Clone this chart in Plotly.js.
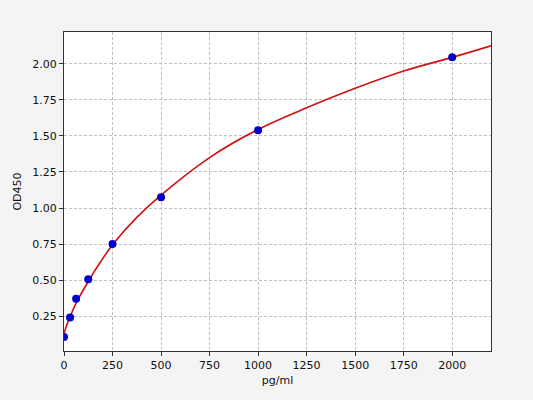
<!DOCTYPE html>
<html>
<head>
<meta charset="utf-8">
<script src="https://cdn.plot.ly/plotly-3.0.1.min.js"></script>
<style>
  html, body { margin: 0; padding: 0; background: #f4f4f4; }
  #chart { width: 533px; height: 400px; }
</style>
</head>
<body>
<div id="chart"></div>
<script>
// standard points
var conc = [0, 31.25, 62.5, 125, 250, 500, 1000, 2000];
var od = [0.105, 0.24, 0.37, 0.505, 0.75, 1.075, 1.54, 2.045];

// fitted curve
var fitX = [0, 15, 31.25, 62.5, 125, 187.5, 250, 375, 500, 750, 1000, 1250, 1500, 1750, 2000, 2200];
var fitY = [0.13, 0.19, 0.245, 0.34, 0.49, 0.625, 0.745, 0.935, 1.09, 1.35, 1.545, 1.695, 1.83, 1.95, 2.045, 2.125];

var xTicks = [0, 250, 500, 750, 1000, 1250, 1500, 1750, 2000];
var yTicks = [0.25, 0.5, 0.75, 1.0, 1.25, 1.5, 1.75, 2.0];

var curve = {
    x: fitX,
    y: fitY,
    mode: 'lines',
    type: 'scatter',
    line: {color: '#d01010', width: 1.6, shape: 'spline'},
    hoverinfo: 'skip'
};

var points = {
    x: conc,
    y: od,
    mode: 'markers',
    type: 'scatter',
    marker: {color: '#0000cc', size: 8}
};

var axisFont = {family: 'DejaVu Sans', size: 11, color: '#111'};

var layout = {
    width: 533,
    height: 400,
    margin: {l: 64, r: 42, t: 32, b: 49},
    paper_bgcolor: '#f4f4f4',
    plot_bgcolor: '#ffffff',
    showlegend: false,
    font: axisFont,
    xaxis: {
        range: [0, 2200],
        tickvals: xTicks,
        ticks: 'outside',
        ticklen: 4,
        tickcolor: '#333',
        showgrid: true,
        gridcolor: '#b0b0b0',
        griddash: '3px,2px',
        gridwidth: 0.8,
        zeroline: false,
        showline: true,
        linecolor: '#333',
        linewidth: 1,
        mirror: true,
        tickfont: axisFont,
        title: {text: 'pg/ml', font: axisFont, standoff: 5}
    },
    yaxis: {
        range: [0.008, 2.221],
        tickvals: yTicks,
        tickformat: '.2f',
        ticks: 'outside',
        ticklen: 4,
        tickcolor: '#333',
        showgrid: true,
        gridcolor: '#b0b0b0',
        griddash: '3px,2px',
        gridwidth: 0.8,
        zeroline: false,
        showline: true,
        linecolor: '#333',
        linewidth: 1,
        mirror: true,
        tickfont: axisFont,
        title: {text: 'OD450', font: axisFont, standoff: 8}
    }
};

Plotly.newPlot('chart', [curve, points], layout, {displayModeBar: false, staticPlot: true});
</script>
</body>
</html>
